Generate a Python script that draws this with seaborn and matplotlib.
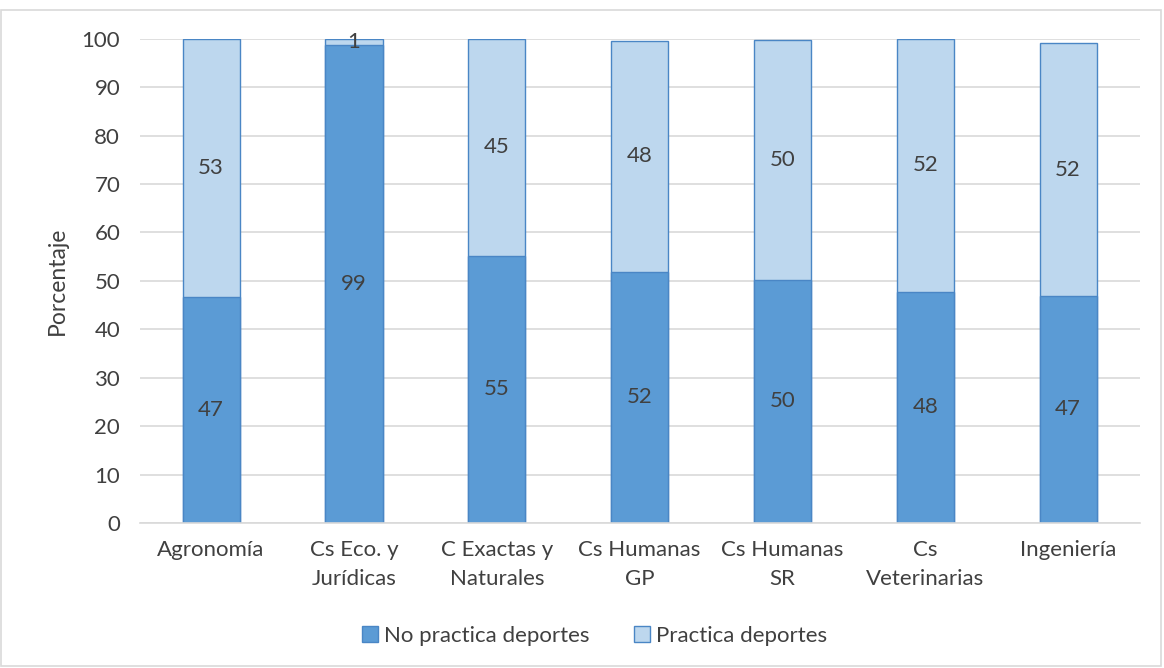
import matplotlib
matplotlib.use("Agg")
import matplotlib.pyplot as plt
import matplotlib.patches as mpatches
import pandas as pd
import seaborn as sns

facultades = [
    "Agronomía",
    "Cs Eco. y\nJurídicas",
    "C Exactas y\nNaturales",
    "Cs Humanas\nGP",
    "Cs Humanas\nSR",
    "Cs\nVeterinarias",
    "Ingeniería",
]
no_practica = [46.7, 98.8, 55.2, 51.9, 50.2, 47.8, 46.9]
practica = [53.3, 1.2, 44.8, 47.7, 49.6, 52.2, 52.2]

dark = "#5B9BD5"
light = "#BDD7EE"
edge = "#4A86C5"
txt = "#404040"
grid = "#D9D9D9"

sns.set_theme(style="white")
plt.rcParams["font.family"] = ["Lato", "DejaVu Sans"]

df = pd.DataFrame({"fac": facultades, "no": no_practica, "si": practica})
df["total"] = df["no"] + df["si"]

fig = plt.figure(figsize=(11.64, 6.68), dpi=100)
ax = fig.add_axes([0.120, 0.217, 0.859, 0.725])

# total first (light), then the lower segment on top of it
sns.barplot(data=df, x="fac", y="total", color=light, width=0.4,
            edgecolor=edge, linewidth=1, saturation=1, ax=ax)
sns.barplot(data=df, x="fac", y="no", color=dark, width=0.4,
            edgecolor=edge, linewidth=1, saturation=1, ax=ax)

for i, (a, b) in enumerate(zip(df["no"], df["si"])):
    ax.text(i, a / 2, f"{a:.0f}", ha="center", va="center", fontsize=16, color=txt)
    ax.text(i, a + b / 2, f"{b:.0f}", ha="center", va="center", fontsize=16, color=txt)

ax.set_ylim(0, 100)
ax.set_xlim(-0.5, 6.5)
ax.set_yticks(range(0, 101, 10))
ax.yaxis.grid(True, color=grid, linewidth=1.2)
ax.set_axisbelow(True)
for s in ["left", "right", "top"]:
    ax.spines[s].set_visible(False)
ax.spines["bottom"].set_color(grid)
ax.spines["bottom"].set_linewidth(1.2)
ax.tick_params(axis="y", length=0, labelsize=16, colors=txt, pad=14)
ax.tick_params(axis="x", length=0, labelsize=16, colors=txt, pad=12)
for lbl in ax.get_xticklabels():
    lbl.set_linespacing(1.55)
ax.set_xlabel("")
ax.set_ylabel("Porcentaje", fontsize=16.5, color=txt, labelpad=10)

handles = [mpatches.Patch(facecolor=dark, edgecolor=edge, label="No practica deportes"),
           mpatches.Patch(facecolor=light, edgecolor=edge, label="Practica deportes")]
fig.legend(handles=handles, loc="center", bbox_to_anchor=(0.511, 0.048), ncol=2,
           frameon=False, fontsize=16, handlelength=0.7, handleheight=0.7,
           handletextpad=0.3, columnspacing=2.0, labelcolor=txt)

fig.patches.append(mpatches.Rectangle((0.001, 0.003), 0.996, 0.982, transform=fig.transFigure,
                                      fill=False, edgecolor=grid, linewidth=1.2))

fig.savefig("out.png", dpi=100)
